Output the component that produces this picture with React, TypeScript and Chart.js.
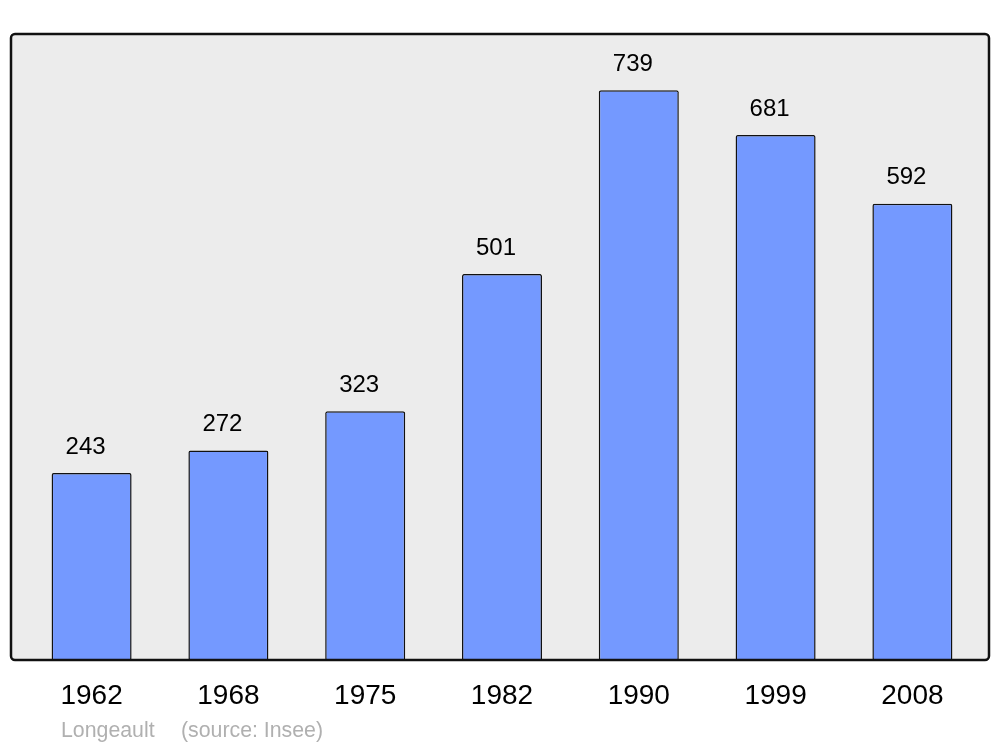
import React, { useEffect, useRef } from "react";
import { Chart, registerables } from "chart.js";

Chart.register(...registerables);

const years = ["1962", "1968", "1975", "1982", "1990", "1999", "2008"];
const population = [243, 272, 323, 501, 739, 681, 592];
const captionName = "Longeault";
const captionSource = "(source: Insee)";

const framePlugin = {
  id: "frame",
  beforeDatasetsDraw(chart: any) {
    const ctx = chart.ctx;
    ctx.save();
    ctx.beginPath();
    ctx.roundRect(11, 34, 978, 626, 4);
    ctx.fillStyle = "#ececec";
    ctx.fill();
    ctx.restore();
  },
  afterDatasetsDraw(chart: any) {
    const ctx = chart.ctx;
    ctx.save();
    ctx.beginPath();
    ctx.roundRect(11, 34, 978, 626, 4);
    ctx.lineWidth = 2.5;
    ctx.strokeStyle = "#111111";
    ctx.stroke();
    // value labels
    const meta = chart.getDatasetMeta(0);
    ctx.fillStyle = "#000000";
    ctx.font = "24px 'Liberation Sans', Arial, sans-serif";
    ctx.textAlign = "center";
    ctx.textBaseline = "middle";
    meta.data.forEach((bar: any, i: number) => {
      ctx.fillText(String(population[i]), bar.x - 6, bar.y - 26);
    });
    // caption
    ctx.fillStyle = "#b0b0b0";
    ctx.font = "21.3px 'Liberation Sans', Arial, sans-serif";
    ctx.textAlign = "left";
    ctx.textBaseline = "alphabetic";
    ctx.fillText(captionName, 61, 737);
    ctx.fillText(captionSource, 181, 737);
    ctx.restore();
  },
};

export default function App() {
  const ref = useRef<HTMLCanvasElement>(null);
  useEffect(() => {
    if (!ref.current) return;
    const chart = new Chart(ref.current, {
      type: "bar",
      data: {
        labels: years,
        datasets: [
          {
            data: population,
            backgroundColor: "#7499ff",
            borderColor: "#111111",
            borderWidth: 1.5,
            borderRadius: 2,
            borderSkipped: false,
            barPercentage: 0.585,
            categoryPercentage: 1,
          },
        ],
      },
      options: {
        responsive: false,
        animation: false,
        devicePixelRatio: 1,
        layout: { padding: { left: 23.2, right: 19.2, top: 34, bottom: 15 } },
        plugins: { legend: { display: false }, tooltip: { enabled: false } },
        scales: {
          x: {
            grid: { display: false, drawTicks: false },
            border: { display: false },
            ticks: {
              color: "#000000",
              padding: 19,
              font: { family: "'Liberation Sans', Arial, sans-serif", size: 28 },
            },
          },
          y: { display: false, min: 0, max: 812 },
        },
      },
      plugins: [framePlugin],
    });
    return () => chart.destroy();
  }, []);
  return (
    <div style={{ position: "absolute", left: 0, top: 0, width: 1000, height: 747, background: "#ffffff" }}>
      <canvas ref={ref} width={1000} height={747} />
    </div>
  );
}
